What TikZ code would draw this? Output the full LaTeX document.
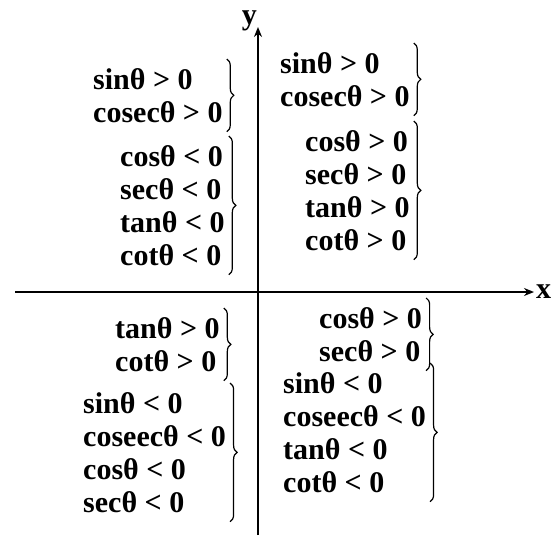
\documentclass[tikz,border=0pt]{standalone}
\usepackage{fontspec}
\setmainfont{Liberation Serif}
\usetikzlibrary{arrows.meta,decorations.pathreplacing}
\tikzset{
  grp/.style={font=\fontsize{30}{33}\selectfont\bfseries,align=left,inner sep=0pt,anchor=north west},
  brc/.style={decorate,decoration={brace,amplitude=7pt},line width=1.2pt},
  axis/.style={line width=1.6pt,-{Stealth[length=10pt,width=8pt]}}
}
\begin{document}
\begin{tikzpicture}[x=1pt,y=-1pt]
\useasboundingbox (0,0) rectangle (560,543);
% axes
\coordinate (xl) at (15,292); \coordinate (xr) at (534,292);
\coordinate (yb) at (258,535); \coordinate (yt) at (258,27);
\draw[axis] (xl)--(xr); \draw[axis] (yb)--(yt);
\node[font=\fontsize{30}{33}\selectfont\bfseries,anchor=west,inner sep=2pt] (xlab) at (xr) {x};
\node[font=\fontsize{30}{33}\selectfont\bfseries,anchor=south east,inner sep=1pt] (ylab) at ([yshift=-5pt]yt) {y};
% sign groups with braces
\foreach \n/\px/\py/\txt in {
  qa/93/68/{sinθ > 0\\cosecθ > 0},
  qb/120/145/{cosθ < 0\\secθ < 0\\tanθ < 0\\cotθ < 0},
  qc/280/52/{sinθ > 0\\cosecθ > 0},
  qd/305/130/{cosθ > 0\\secθ > 0\\tanθ > 0\\cotθ > 0},
  qe/115/317/{tanθ > 0\\cotθ > 0},
  qf/83/392/{sinθ < 0\\coseecθ < 0\\cosθ < 0\\secθ < 0},
  qg/319/307/{cosθ > 0\\secθ > 0},
  qh/283/372/{sinθ < 0\\coseecθ < 0\\tanθ < 0\\cotθ < 0}}{
  \node[grp] (\n) at (\px,\py) {\txt};
  \draw[brc] ([xshift=4pt,yshift=9pt]\n.north east)--([xshift=4pt,yshift=-9pt]\n.south east);}
\end{tikzpicture}
\end{document}
